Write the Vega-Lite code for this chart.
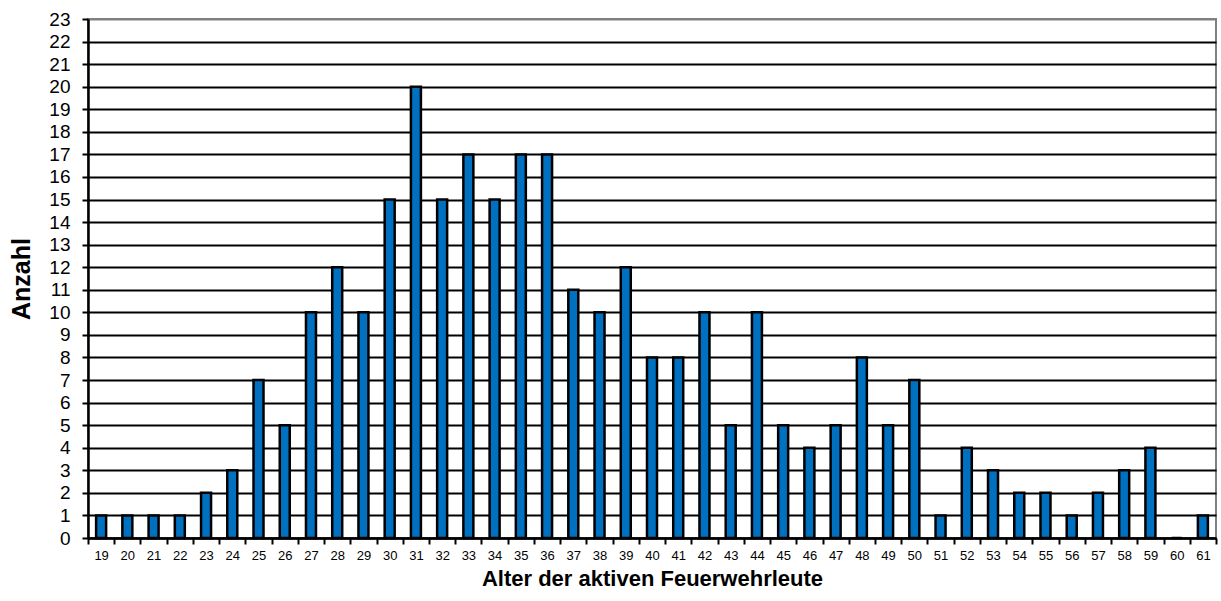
{
  "$schema": "https://vega.github.io/schema/vega-lite/v6.json",
  "width": 1128,
  "height": 519,
  "autosize": "none",
  "padding": {"left": 88, "top": 19, "right": 5, "bottom": 63},
  "background": "white",
  "config": {
    "view": {"stroke": "#808080", "strokeWidth": 2},
    "font": "Liberation Sans"
  },
  "data": {
    "values": [
      {"Alter": 19, "Anzahl": 1}, {"Alter": 20, "Anzahl": 1}, {"Alter": 21, "Anzahl": 1},
      {"Alter": 22, "Anzahl": 1}, {"Alter": 23, "Anzahl": 2}, {"Alter": 24, "Anzahl": 3},
      {"Alter": 25, "Anzahl": 7}, {"Alter": 26, "Anzahl": 5}, {"Alter": 27, "Anzahl": 10},
      {"Alter": 28, "Anzahl": 12}, {"Alter": 29, "Anzahl": 10}, {"Alter": 30, "Anzahl": 15},
      {"Alter": 31, "Anzahl": 20}, {"Alter": 32, "Anzahl": 15}, {"Alter": 33, "Anzahl": 17},
      {"Alter": 34, "Anzahl": 15}, {"Alter": 35, "Anzahl": 17}, {"Alter": 36, "Anzahl": 17},
      {"Alter": 37, "Anzahl": 11}, {"Alter": 38, "Anzahl": 10}, {"Alter": 39, "Anzahl": 12},
      {"Alter": 40, "Anzahl": 8}, {"Alter": 41, "Anzahl": 8}, {"Alter": 42, "Anzahl": 10},
      {"Alter": 43, "Anzahl": 5}, {"Alter": 44, "Anzahl": 10}, {"Alter": 45, "Anzahl": 5},
      {"Alter": 46, "Anzahl": 4}, {"Alter": 47, "Anzahl": 5}, {"Alter": 48, "Anzahl": 8},
      {"Alter": 49, "Anzahl": 5}, {"Alter": 50, "Anzahl": 7}, {"Alter": 51, "Anzahl": 1},
      {"Alter": 52, "Anzahl": 4}, {"Alter": 53, "Anzahl": 3}, {"Alter": 54, "Anzahl": 2},
      {"Alter": 55, "Anzahl": 2}, {"Alter": 56, "Anzahl": 1}, {"Alter": 57, "Anzahl": 2},
      {"Alter": 58, "Anzahl": 3}, {"Alter": 59, "Anzahl": 4}, {"Alter": 60, "Anzahl": 0},
      {"Alter": 61, "Anzahl": 1}
    ]
  },
  "mark": {"type": "bar", "size": 10, "color": "#0070C0", "stroke": "black", "strokeWidth": 2.5},
  "encoding": {
    "x": {
      "field": "Alter", "type": "ordinal",
      "scale": {"paddingInner": 0, "paddingOuter": 0},
      "axis": {
        "title": "Alter der aktiven Feuerwehrleute",
        "titleFont": "Liberation Sans", "titleFontSize": 22, "titleFontWeight": "bold", "titleColor": "black",
        "titlePadding": 6,
        "labelAngle": 0, "labelFontSize": 13, "labelColor": "black", "labelPadding": 5,
        "tickBand": "extent", "tickColor": "black", "tickWidth": 2, "tickSize": 6,
        "domainColor": "black", "domainWidth": 2.5, "grid": false
      }
    },
    "y": {
      "field": "Anzahl", "type": "quantitative",
      "scale": {"domain": [0, 23], "nice": false},
      "axis": {
        "title": "Anzahl",
        "titleFont": "Liberation Sans", "titleFontSize": 25, "titleFontWeight": "bold", "titleColor": "black",
        "titlePadding": 14,
        "values": [0,1,2,3,4,5,6,7,8,9,10,11,12,13,14,15,16,17,18,19,20,21,22,23],
        "labelFontSize": 19, "labelColor": "black", "labelPadding": 12,
        "tickColor": "black", "tickWidth": 2, "tickSize": 6,
        "domainColor": "black", "domainWidth": 2.5,
        "grid": true,
        "gridColor": {"condition": {"test": "datum.value === 23", "value": "#808080"}, "value": "black"},
        "gridWidth": 2
      }
    }
  }
}
